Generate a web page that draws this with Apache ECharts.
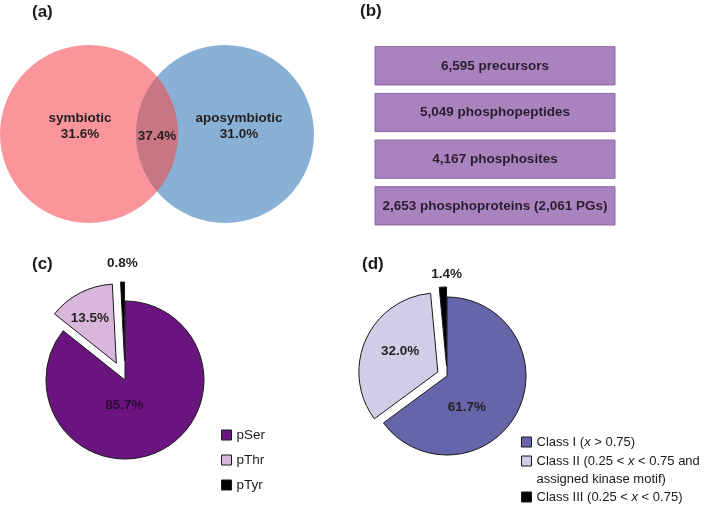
<!DOCTYPE html>
<html><head><meta charset="utf-8">
<script src="https://cdn.jsdelivr.net/npm/echarts@6/dist/echarts.min.js"></script>
<style>html,body{margin:0;padding:0;background:#fff}#c{width:709px;height:512px}</style>
</head><body><div id="c"></div>
<script>
// ---- data ----
// (a) Venn diagram
const vennNames = ['symbiotic', 'aposymbiotic', 'overlap'];
const vennPercents = [31.6, 31.0, 37.4];
// (b) identification summary
const summaryCounts = [6595, 5049, 4167, 2653];
const summaryLabels = ['precursors', 'phosphopeptides', 'phosphosites', 'phosphoproteins (2,061 PGs)'];
// (c) phospho residues
const residueNames = ['pSer', 'pThr', 'pTyr'];
const residuePercents = [85.7, 13.5, 0.8];
// (d) localization classes
const classNames = ['Class I (x > 0.75)', 'Class II (0.25 < x < 0.75 and assigned kinase motif)', 'Class III (0.25 < x < 0.75)'];
const classPercents = [61.7, 32.0, 1.4];
// panel tags
const panelTags = ['(a)', '(b)', '(c)', '(d)'];

// ---- styles / layout ----
const FONT = '"Liberation Sans", Arial, Helvetica, sans-serif';
const TXT = '#231f20';
const vennLayout = [
  {fill: '#F9959B', cx: 89, cy: 90, r: 89, lx: 80, ly: 82},
  {fill: '#88B1D5', cx: 225, cy: 90, r: 89, lx: 239, ly: 82},
  {fill: '#C87682', lx: 157, ly: 92}
];
const residueColors = ['#6B1480', '#D9B7DC', '#000000'];
const residueLabelColors = ['#2c0b33', TXT, TXT];
const residueLabelShift = [[-19, -13], [-7, -7], [-1, -55]];
const classColors = ['#6665A9', '#D0CDE7', '#000000'];
const classLabelShift = [[-18, 12], [1, -3], [2, -49]];
const classLegendTop = [433, 434, 488];
const classLegendPad = [0, [18, 0, 0, 0], 0];

function fmtThousands(n) { return String(n).replace(/\B(?=(\d{3})+(?!\d))/g, ','); }

function renderVenn(params, api) {
  const i = params.dataIndex;
  const s = vennLayout[i];
  const name = vennNames[i];
  const label = (name === 'overlap' ? '' : name + '\n') + api.value(1).toFixed(1) + '%';
  const lp = api.coord([s.lx, s.ly]);
  const textEl = {type: 'text', x: lp[0], y: lp[1], z2: 10,
    style: {text: label, fill: TXT, font: 'bold 13.5px ' + FONT, align: 'center', verticalAlign: 'middle', lineHeight: 16}};
  let shapeEl;
  if (i < 2) {
    const c = api.coord([s.cx, s.cy]);
    const r = api.size([s.r, 0])[0];
    shapeEl = {type: 'circle', shape: {cx: c[0], cy: c[1], r: r}, style: {fill: s.fill}};
  } else {
    const a = vennLayout[0], b = vennLayout[1];
    const ca = api.coord([a.cx, a.cy]), cb = api.coord([b.cx, b.cy]);
    const ra = api.size([a.r, 0])[0], rb = api.size([b.r, 0])[0];
    const d = cb[0] - ca[0];
    const xi = (d * d - rb * rb + ra * ra) / (2 * d);
    const h = Math.sqrt(ra * ra - xi * xi);
    const ix = ca[0] + xi;
    const angA = Math.atan2(h, xi);
    const angB = Math.atan2(h, cb[0] - ix);
    const pts = [];
    const N = 80;
    for (let k = 0; k <= N; k++) {
      const t = -angA + 2 * angA * k / N;
      pts.push([ca[0] + ra * Math.cos(t), ca[1] + ra * Math.sin(t)]);
    }
    for (let k = 0; k <= N; k++) {
      const u = Math.PI - angB + 2 * angB * k / N;
      pts.push([cb[0] + rb * Math.cos(u), cb[1] + rb * Math.sin(u)]);
    }
    shapeEl = {type: 'polygon', shape: {points: pts}, style: {fill: s.fill}};
  }
  return {type: 'group', children: [shapeEl, textEl]};
}

function renderBox(params, api) {
  const cs = params.coordSys;
  const yc = api.coord([0, api.value(1)])[1];
  const band = api.size([0, 1])[1];
  const h = band * 0.82;
  return {type: 'group', children: [
    {type: 'rect', shape: {x: cs.x, y: yc - h / 2, width: cs.width, height: h},
      style: {fill: '#A983BE', stroke: '#8E64A9', lineWidth: 1}},
    {type: 'text', x: cs.x + cs.width / 2, y: yc,
      style: {text: fmtThousands(api.value(0)) + ' ' + summaryLabels[params.dataIndex],
        fill: '#2b1d2e', font: 'bold 13.5px ' + FONT, align: 'center', verticalAlign: 'middle'}}
  ]};
}

const classRich = {
  'Class I (x > 0.75)': '{n|Class I (}{i|x}{n| > 0.75)}',
  'Class II (0.25 < x < 0.75 and assigned kinase motif)': '{n|Class II (0.25 < }{i|x}{n| < 0.75 and}\n{n|assigned kinase motif)}',
  'Class III (0.25 < x < 0.75)': '{n|Class III (0.25 < }{i|x}{n| < 0.75)}'
};

const chart = echarts.init(document.getElementById('c'), null, {renderer: 'canvas'});

const classLegends = classNames.map((n, i) => ({
  left: 521, top: classLegendTop[i], padding: 0, orient: 'vertical',
  itemWidth: 10, itemHeight: 10, icon: 'rect', selectedMode: false,
  data: [n],
  itemStyle: {borderColor: '#1a1a1a', borderWidth: 1},
  formatter: name => classRich[name],
  textStyle: {padding: classLegendPad[i], lineHeight: 18,
    rich: {
      n: {fontSize: 13, lineHeight: 18, color: '#1a1a1a', fontFamily: FONT},
      i: {fontSize: 13, lineHeight: 18, color: '#1a1a1a', fontFamily: FONT, fontStyle: 'italic'}
    }}
}));

chart.setOption({
  animation: false,
  backgroundColor: '#ffffff',
  title: panelTags.map((t, i) => ({
    text: t, left: [32, 360, 32, 362][i], top: [4, 3, 256, 256][i], padding: 0,
    textStyle: {fontSize: 17, fontWeight: 'bold', color: '#1a1a1a', fontFamily: FONT}
  })),
  grid: [
    {left: 0, top: 44, width: 314, height: 180},
    {left: 375, top: 42.5, width: 240, height: 186.7}
  ],
  xAxis: [
    {gridIndex: 0, type: 'value', min: 0, max: 314, show: false},
    {gridIndex: 1, type: 'value', min: 0, max: 7000, show: false}
  ],
  yAxis: [
    {gridIndex: 0, type: 'value', min: 0, max: 180, inverse: true, show: false},
    {gridIndex: 1, type: 'category', data: summaryLabels, inverse: true, show: false}
  ],
  legend: [
    {left: 221, top: 426, padding: 0, orient: 'vertical', itemWidth: 10, itemHeight: 10, itemGap: 7,
      icon: 'rect', selectedMode: false, data: residueNames,
      itemStyle: {borderColor: '#1a1a1a', borderWidth: 1},
      textStyle: {fontSize: 13.5, color: '#1a1a1a', fontFamily: FONT, lineHeight: 18}}
  ].concat(classLegends),
  series: [
    {type: 'custom', xAxisIndex: 0, yAxisIndex: 0, renderItem: renderVenn, silent: true,
      data: vennNames.map((n, i) => [i, vennPercents[i]])},
    {type: 'custom', xAxisIndex: 1, yAxisIndex: 1, renderItem: renderBox, silent: true,
      data: summaryCounts.map((c, i) => [c, i])},
    {type: 'pie', center: [125, 380], radius: 79, startAngle: 90, clockwise: true,
      selectedMode: 'multiple', selectedOffset: 19, silent: true,
      itemStyle: {borderColor: '#1a1a1a', borderWidth: 1},
      label: {show: true, position: 'inside', formatter: p => p.value.toFixed(1) + '%',
        fontFamily: FONT, fontWeight: 'bold', fontSize: 13.5},
      labelLine: {show: false}, emphasis: {disabled: true},
      labelLayout: p => ({dx: residueLabelShift[p.dataIndex][0], dy: residueLabelShift[p.dataIndex][1], hideOverlap: false}),
      data: residueNames.map((n, i) => ({name: n, value: residuePercents[i], selected: i > 0,
        itemStyle: {color: residueColors[i]},
        label: {color: residueLabelColors[i]}}))},
    {type: 'pie', center: [447, 376], radius: 79, startAngle: 90, clockwise: true,
      selectedMode: 'multiple', selectedOffset: 10, silent: true,
      itemStyle: {borderColor: '#1a1a1a', borderWidth: 1},
      label: {show: true, position: 'inside', formatter: p => p.value.toFixed(1) + '%',
        fontFamily: FONT, fontWeight: 'bold', fontSize: 13.5, color: TXT},
      labelLine: {show: false}, emphasis: {disabled: true},
      labelLayout: p => ({dx: classLabelShift[p.dataIndex][0], dy: classLabelShift[p.dataIndex][1], hideOverlap: false}),
      data: classNames.map((n, i) => ({name: n, value: classPercents[i], selected: i > 0,
        itemStyle: {color: classColors[i]}}))}
  ]
});
</script></body></html>
